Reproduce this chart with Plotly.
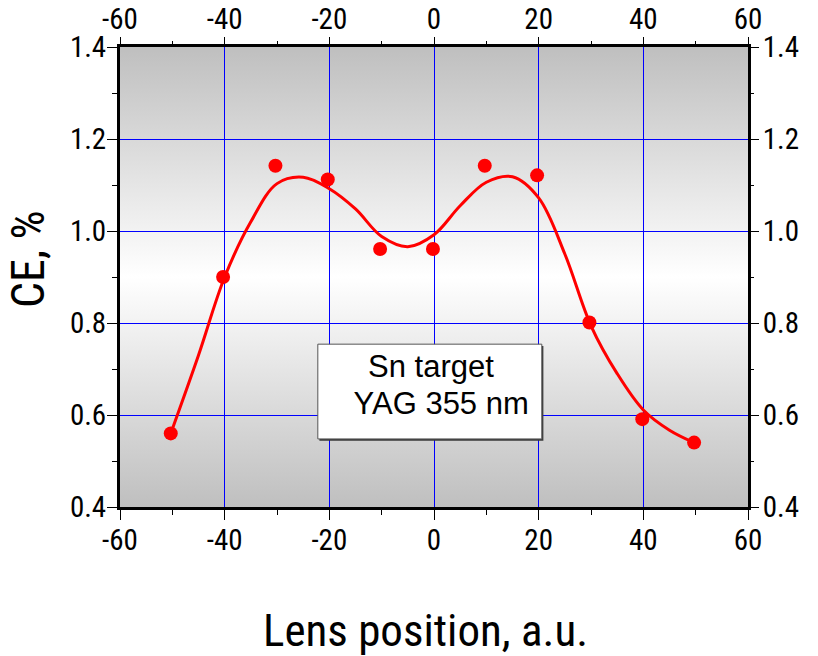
import base64
import plotly.graph_objects as go

# Measured conversion efficiency vs. lens position
lens_pos = [-50.3, -40.3, -30.3, -20.3, -10.3, -0.2, 9.7, 19.7, 29.7, 39.8, 49.7]
ce_pct = [0.560, 0.900, 1.142, 1.112, 0.961, 0.961, 1.142, 1.121, 0.801, 0.591, 0.540]

# Smooth trend curve through the measurements
trend_x = [-50.3, -45, -40, -35, -30, -25, -20, -15, -10, -5, 0,
           5, 10, 15, 20, 25, 30, 35, 40, 45, 49.7]
trend_y = [0.560, 0.730, 0.900, 1.020, 1.103, 1.117, 1.092, 1.048, 0.988, 0.966, 0.992,
           1.055, 1.106, 1.118, 1.072, 0.950, 0.794, 0.690, 0.611, 0.567, 0.540]

x_tickvals = [-60, -40, -20, 0, 20, 40, 60]
x_ticktext = ["-60", "-40", "-20", "0", "20", "40", "60"]
y_dtick = 0.2

x_range = [-60, 60]
y_range = [0.4, 1.4]

note_lines = ["Sn target", "\u00a0YAG 355 nm"]
x_title = "Lens position, a.u."
y_title = "CE, %"

NARROW = "Roboto Condensed, Liberation Sans Narrow, Arial Narrow, sans-serif"
REGULAR = "Liberation Sans, Arial, sans-serif"
GRID_BLUE = "#0000ff"

# Vertical grey-white-grey background gradient
svg = ('<svg xmlns="http://www.w3.org/2000/svg" width="100" height="100" preserveAspectRatio="none">'
       '<defs><linearGradient id="g" x1="0" y1="0" x2="0" y2="1">'
       '<stop offset="0" stop-color="#bfbfbf"/>'
       '<stop offset="0.5" stop-color="#ffffff"/>'
       '<stop offset="1" stop-color="#bfbfbf"/>'
       '</linearGradient></defs>'
       '<rect width="100" height="100" fill="url(#g)"/></svg>')
bg_src = "data:image/svg+xml;base64," + base64.b64encode(svg.encode()).decode()

fig = go.Figure()
fig.add_trace(go.Scatter(x=trend_x, y=trend_y, mode="lines",
                         line=dict(color="#ff0000", width=3, shape="spline", smoothing=1.0),
                         hoverinfo="skip", showlegend=False))
fig.add_trace(go.Scatter(x=lens_pos, y=ce_pct, mode="markers",
                         marker=dict(color="#ff0000", size=14),
                         showlegend=False))
# companion trace so the top/right axes are drawn
fig.add_trace(go.Scatter(x=lens_pos, y=ce_pct, xaxis="x2", yaxis="y2", mode="markers",
                         marker=dict(opacity=0), hoverinfo="skip", showlegend=False))

tick_font = dict(family=NARROW, size=29, color="black")
common_x = dict(range=x_range, tickmode="array", tickvals=x_tickvals, ticktext=x_ticktext,
                tickfont=tick_font, zeroline=False, automargin=False, gridcolor=GRID_BLUE,
                minor=dict(tickmode="linear", tick0=-60, dtick=10, ticks="outside",
                           ticklen=5, tickcolor="black", tickwidth=1, showgrid=False))
common_y = dict(range=y_range, tickmode="linear", tick0=y_range[0], dtick=y_dtick, tickformat=".1f",
                tickfont=tick_font, zeroline=False, automargin=False, gridcolor=GRID_BLUE,
                minor=dict(tickmode="linear", tick0=y_range[0], dtick=y_dtick / 2, ticks="outside",
                           ticklen=5, tickcolor="black", tickwidth=1, showgrid=False))

fig.update_layout(
    width=818, height=656,
    margin=dict(l=120, r=70, t=47, b=149),
    paper_bgcolor="white", plot_bgcolor="rgba(0,0,0,0)",
    xaxis=dict(**common_x, ticks="outside", ticklen=10, tickcolor="black", tickwidth=1,
               ticklabelstandoff=-5, showgrid=True, gridwidth=1,
               showline=True, linewidth=3, linecolor="black", mirror=True),
    yaxis=dict(**common_y, ticks="outside", ticklen=10, tickcolor="black", tickwidth=1,
               ticklabelstandoff=-5, showgrid=True, gridwidth=1,
               showline=True, linewidth=3, linecolor="black", mirror=True),
    xaxis2=dict(**common_x, overlaying="x", side="top", anchor="y2",
                ticks="outside", ticklen=9, tickcolor="black", tickwidth=1,
                ticklabelstandoff=-4, showgrid=False, showline=False),
    yaxis2=dict(**common_y, overlaying="y", side="right", anchor="x2",
                ticks="outside", ticklen=10, tickcolor="black", tickwidth=1,
                ticklabelstandoff=-2, showgrid=False, showline=False),
    images=[dict(source=bg_src, xref="paper", yref="paper", x=0, y=1,
                 sizex=1, sizey=1, xanchor="left", yanchor="top",
                 sizing="stretch", layer="below")],
)

# Annotation box with a slight drop shadow
box = dict(x0=-22.2, x1=20.6, y0=0.548, y1=0.754)
fig.add_shape(type="rect", x0=box["x0"] + 0.3, x1=box["x1"] + 0.3,
              y0=box["y0"] - 0.004, y1=box["y1"] - 0.004,
              line=dict(width=0), fillcolor="#3a3a3a")
fig.add_shape(type="rect", **box, line=dict(color="#555555", width=1), fillcolor="white")

fig.add_annotation(x=-0.5, y=0.705, xref="x", yref="y", text=note_lines[0], showarrow=False,
                   font=dict(family=REGULAR, size=31, color="black"), xanchor="center", yanchor="middle")
fig.add_annotation(x=0.5, y=0.625, xref="x", yref="y", text=note_lines[1], showarrow=False,
                   font=dict(family=REGULAR, size=31, color="black"), xanchor="center", yanchor="middle")

# Axis titles
fig.add_annotation(x=(425 - 120) / 628, y=(507 - 630) / 460, xref="paper", yref="paper",
                   text=x_title, showarrow=False, xanchor="center", yanchor="middle",
                   font=dict(family=NARROW, size=45, color="black"))
fig.add_annotation(x=(28 - 120) / 628, y=(507 - 259) / 460, xref="paper", yref="paper",
                   text=y_title, showarrow=False, textangle=-90, xanchor="center", yanchor="middle",
                   font=dict(family=NARROW, size=46, color="black"))

fig.write_html("out.html")
